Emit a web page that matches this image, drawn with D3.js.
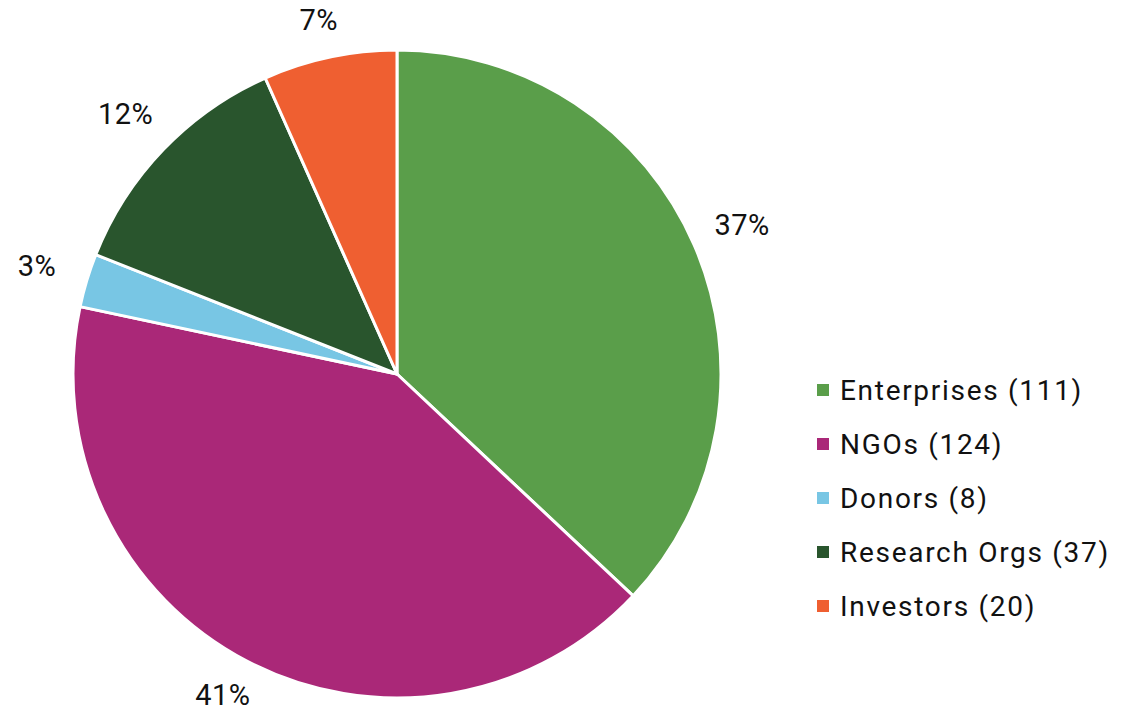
<!DOCTYPE html>
<html>
<head>
<meta charset="utf-8">
<script src="https://cdn.jsdelivr.net/npm/d3@7"></script>
<style>
  body { margin: 0; background: #fff; }
  svg text { font-family: Roboto, "Noto Sans", sans-serif; fill: #111; }
</style>
</head>
<body>
<svg width="1125" height="714"></svg>
<script>
// values (counts in legend)
const categories = ["Enterprises", "NGOs", "Donors", "Research Orgs", "Investors"];
const counts     = [111, 124, 8, 37, 20];
const colors     = ["#5a9e4a", "#aa2878", "#78c6e4", "#29552d", "#ef5f31"];

const svg = d3.select("svg");
const width  = parseInt(svg.attr("width"));
const height = parseInt(svg.attr("height"));
const cx = 397, cy = 374, radius = 324;

const data = categories.map((name, i) => ({name: name, count: counts[i], color: colors[i]}));
const total = d3.sum(counts);

const pie = d3.pie()
  .sort(null)
  .value(d => d.count);

const arc = d3.arc().innerRadius(0).outerRadius(radius);
// label sits just outside the slice
const labelArc = d3.arc().innerRadius(376).outerRadius(376);

const g = svg.append("g").attr("transform", `translate(${cx},${cy})`);

const arcs = pie(data);

g.selectAll("path.slice")
  .data(arcs)
  .enter()
  .append("path")
  .attr("class", "slice")
  .attr("d", arc)
  .attr("fill", d => d.data.color)
  .attr("stroke", "#fff")
  .attr("stroke-width", 3)
  .attr("stroke-linejoin", "round");

// keep labels inside the picture
function labelPos(d) {
  let [x, y] = labelArc.centroid(d);
  y = Math.max(20 - cy, Math.min(height - 19 - cy, y));
  return [x, y];
}

g.selectAll("text.pct")
  .data(arcs)
  .enter()
  .append("text")
  .attr("class", "pct")
  .attr("transform", d => `translate(${labelPos(d)})`)
  .attr("text-anchor", "middle")
  .attr("dy", "0.36em")
  .style("font-size", "29px")
  .style("letter-spacing", "0.5px")
  .text(d => Math.round(d.data.count / total * 100) + "%");

// legend
const legend = svg.append("g").attr("transform", "translate(817,390)");
const rowH = 54;

const item = legend.selectAll("g.item")
  .data(data)
  .enter()
  .append("g")
  .attr("class", "item")
  .attr("transform", (d, i) => `translate(0,${i * rowH})`);

item.append("rect")
  .attr("x", 0)
  .attr("y", -6)
  .attr("width", 12)
  .attr("height", 12)
  .attr("fill", d => d.color);

item.append("text")
  .attr("x", 23)
  .attr("dy", "0.36em")
  .style("font-size", "28px")
  .style("letter-spacing", "1.7px")
  .text(d => `${d.name} (${d.count})`);
</script>
</body>
</html>
